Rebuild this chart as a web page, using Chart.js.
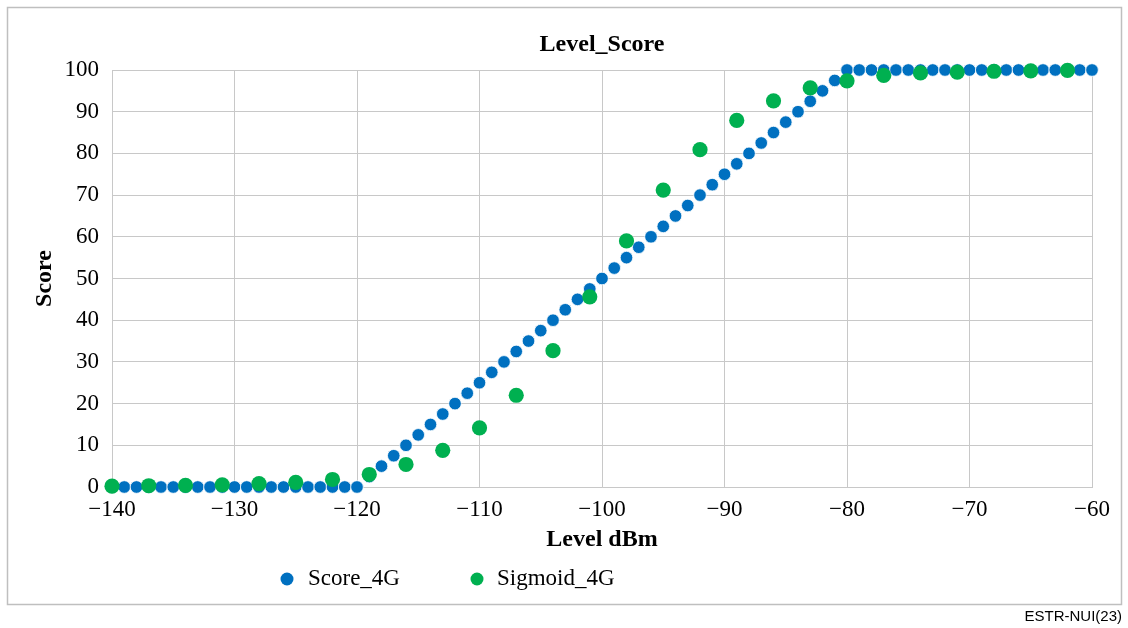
<!DOCTYPE html>
<html><head><meta charset="utf-8">
<script src="https://cdn.jsdelivr.net/npm/chart.js@4/dist/chart.umd.min.js"></script>
<style>
html,body{margin:0;padding:0;background:#fff;}
#wrap{position:relative;width:1128px;height:628px;}
#foot{position:absolute;right:6px;top:607px;font:15px "Liberation Sans",Arial,sans-serif;color:#000;line-height:18px;}
</style></head>
<body><div id="wrap"><canvas id="c" width="1128" height="628" style="width:1128px;height:628px"></canvas><div id="foot">ESTR-NUI(23)</div></div>
<script>
const chartTitle = 'Level_Score';
const xTitle = 'Level dBm';
const yTitle = 'Score';
const seriesNames = ['Score_4G', 'Sigmoid_4G'];

const scoreLevels = [-140,-139,-138,-137,-136,-135,-134,-133,-132,-131,-130,-129,-128,-127,-126,-125,-124,-123,-122,-121,-120,
  -119,-118,-117,-116,-115,-114,-113,-112,-111,-110,-109,-108,-107,-106,-105,-104,-103,-102,-101,-100,
  -99,-98,-97,-96,-95,-94,-93,-92,-91,-90,-89,-88,-87,-86,-85,-84,-83,-82,-81,-80,
  -79,-78,-77,-76,-75,-74,-73,-72,-71,-70,-69,-68,-67,-66,-65,-64,-63,-62,-61,-60];
const scoreValues = [0,0,0,0,0,0,0,0,0,0,0,0,0,0,0,0,0,0,0,0,0,
  2.5,5,7.5,10,12.5,15,17.5,20,22.5,25,27.5,30,32.5,35,37.5,40,42.5,45,47.5,50,
  52.5,55,57.5,60,62.5,65,67.5,70,72.5,75,77.5,80,82.5,85,87.5,90,92.5,95,97.5,100,
  100,100,100,100,100,100,100,100,100,100,100,100,100,100,100,100,100,100,100,100];

const sigmoidLevels = [-140,-137,-134,-131,-128,-125,-122,-119,-116,-113,-110,-107,-104,-101,-98,-95,-92,-89,-86,-83,-80,-77,-74,-71,-68,-65,-62];
const sigmoidValues = [0.2,0.3,0.4,0.5,0.8,1.1,1.8,3.0,5.4,8.8,14.2,22.0,32.7,45.6,59.0,71.2,80.9,87.9,92.6,95.7,97.4,98.7,99.3,99.5,99.7,99.8,99.9];

const xTicks = [-140,-130,-120,-110,-100,-90,-80,-70,-60];
const yTicks = [0,10,20,30,40,50,60,70,80,90,100];

const SERIF = '"Liberation Serif","Times New Roman",serif';
const GRID = '#c8c8c8';
const fmt = v => v < 0 ? '\u2212' + Math.abs(v) : String(v);

const deco = {
  id: 'deco',
  afterDraw(chart) {
    const ctx = chart.ctx, ca = chart.chartArea;
    ctx.save();
    ctx.strokeStyle = '#bfbfbf'; ctx.lineWidth = 1.5;
    ctx.strokeRect(7.5, 7.5, 1114, 597);
    ctx.fillStyle = '#000';
    ctx.font = 'bold 24px ' + SERIF;
    ctx.textAlign = 'center'; ctx.textBaseline = 'middle';
    ctx.fillText(chartTitle, (ca.left + ca.right) / 2, 45);
    // legend
    ctx.font = '23px ' + SERIF;
    ctx.textAlign = 'left';
    const items = [{dot: 287, txt: 308}, {dot: 477, txt: 497}];
    chart.data.datasets.forEach((ds, i) => {
      const it = items[i];
      ctx.beginPath();
      ctx.arc(it.dot, 579, 6.5, 0, Math.PI * 2);
      ctx.fillStyle = ds.backgroundColor; ctx.fill();
      ctx.fillStyle = '#000';
      ctx.fillText(ds.label, it.txt, 579);
    });
    ctx.restore();
  }
};

new Chart(document.getElementById('c'), {
  type: 'scatter',
  data: {
    datasets: [
      { label: seriesNames[0], data: scoreLevels.map((x, i) => ({x, y: scoreValues[i]})),
        backgroundColor: '#0070C0', borderColor: '#ffffff', borderWidth: 0.8, pointRadius: 6.3, order: 2, clip: false },
      { label: seriesNames[1], data: sigmoidLevels.map((x, i) => ({x, y: sigmoidValues[i]})),
        backgroundColor: '#00B050', borderColor: '#00B050', borderWidth: 0, pointRadius: 7.6, order: 1, clip: false }
    ]
  },
  options: {
    responsive: false, animation: false,
    layout: { padding: { left: 0, top: 70, right: 36, bottom: 0 } },
    plugins: { legend: { display: false }, title: { display: false }, tooltip: { enabled: false } },
    scales: {
      x: {
        type: 'linear', min: -140, max: -60,
        afterBuildTicks: s => { s.ticks = xTicks.map(v => ({value: v})); },
        afterFit: s => { s.height = 141; },
        ticks: { font: { family: SERIF, size: 23 }, color: '#000', padding: 9, callback: v => fmt(v), maxRotation: 0 },
        grid: { color: GRID, drawTicks: false, lineWidth: 1 },
        border: { color: GRID },
        title: { display: true, text: xTitle, color: '#000', font: { family: SERIF, size: 24, weight: 'bold' }, padding: { top: 0, bottom: 73.6 } }
      },
      y: {
        min: 0, max: 100,
        afterBuildTicks: s => { s.ticks = yTicks.map(v => ({value: v})); },
        afterFit: s => { s.width = 112; },
        ticks: { font: { family: SERIF, size: 23 }, color: '#000', padding: 13, callback: v => fmt(v) },
        grid: { color: GRID, drawTicks: false, lineWidth: 1 },
        border: { color: GRID },
        title: { display: true, text: yTitle, color: '#000', font: { family: SERIF, size: 24, weight: 'bold' }, padding: { top: 30.6, bottom: 0 } }
      }
    }
  },
  plugins: [deco]
});
</script>
</body></html>
